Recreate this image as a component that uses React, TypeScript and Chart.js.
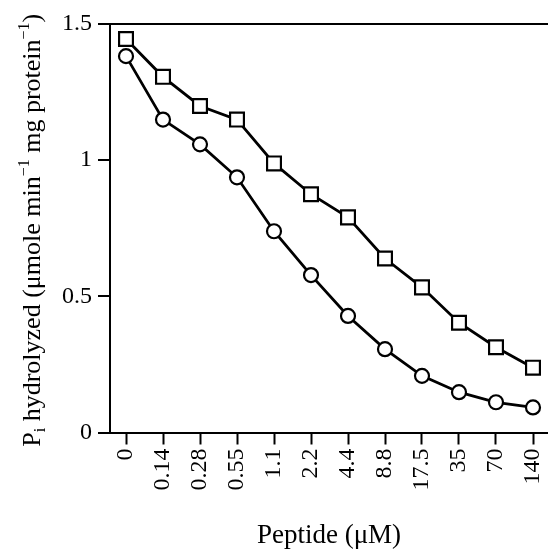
import React, { useEffect, useRef } from "react";
import { Chart, registerables } from "chart.js";

Chart.register(...registerables);

const categories = ["0", "0.14", "0.28", "0.55", "1.1", "2.2", "4.4", "8.8", "17.5", "35", "70", "140"];
const squareValues = [1.445, 1.306, 1.199, 1.149, 0.988, 0.875, 0.79, 0.639, 0.533, 0.403, 0.313, 0.238];
const circleValues = [1.382, 1.149, 1.058, 0.937, 0.739, 0.578, 0.428, 0.306, 0.208, 0.148, 0.111, 0.092];
const yTickValues = [0, 0.5, 1, 1.5];
const yTickLabels = ["0", "0.5", "1", "1.5"];
const xTitle = "Peptide (\u03bcM)";
const yTitleParts = [
  { t: "P", k: "n" },
  { t: "i", k: "sub" },
  { t: " hydrolyzed (\u03bcmole min", k: "n" },
  { t: "\u22121", k: "sup" },
  { t: " mg protein", k: "n" },
  { t: "\u22121", k: "sup" },
  { t: ")", k: "n" },
];

const FONT = "'Liberation Serif', 'Times New Roman', serif";

const yTitlePlugin = {
  id: "yTitlePlugin",
  afterDraw(chart: any) {
    const ctx = chart.ctx;
    const { top, bottom } = chart.chartArea;
    const big = 26;
    const small = 16;
    ctx.save();
    ctx.fillStyle = "#000";
    ctx.textBaseline = "alphabetic";
    ctx.textAlign = "left";
    const widths = yTitleParts.map((p) => {
      ctx.font = `${p.k === "n" ? big : small}px ${FONT}`;
      return ctx.measureText(p.t).width;
    });
    const total = widths.reduce((a, b) => a + b, 0);
    ctx.translate(40, (top + bottom) / 2 + 2);
    ctx.rotate(-Math.PI / 2);
    let x = -total / 2;
    yTitleParts.forEach((p, i) => {
      ctx.font = `${p.k === "n" ? big : small}px ${FONT}`;
      const dy = p.k === "sub" ? 5 : p.k === "sup" ? -11 : 0;
      ctx.fillText(p.t, x, dy);
      x += widths[i];
    });
    ctx.restore();
  },
};

export default function App() {
  const ref = useRef<HTMLCanvasElement | null>(null);

  useEffect(() => {
    document.documentElement.style.overflow = "hidden";
    document.body.style.margin = "0";
    document.body.style.overflow = "hidden";
    document.body.style.background = "#fff";
    const canvas = ref.current;
    if (!canvas) return;
    const xMin = -16 / 37;
    const xMax = xMin + 438 / 37;
    const chart = new Chart(canvas, {
      type: "line",
      data: {
        datasets: [
          {
            label: "squares",
            data: squareValues.map((v, i) => ({ x: i, y: v })),
            borderColor: "#000",
            borderWidth: 2.8,
            pointStyle: "rect",
            pointRadius: 9.8,
            pointBorderWidth: 2.2,
            pointBackgroundColor: "#fff",
            pointBorderColor: "#000",
            tension: 0,
          },
          {
            label: "circles",
            data: circleValues.map((v, i) => ({ x: i, y: v })),
            borderColor: "#000",
            borderWidth: 2.8,
            pointStyle: "circle",
            pointRadius: 7,
            pointBorderWidth: 2.2,
            pointBackgroundColor: "#fff",
            pointBorderColor: "#000",
            tension: 0,
          },
        ],
      },
      options: {
        animation: false,
        responsive: false,
        devicePixelRatio: 1,
        layout: { autoPadding: false, padding: { top: 24, left: 0, right: 0, bottom: 0 } },
        plugins: { legend: { display: false }, tooltip: { enabled: false } },
        scales: {
          x: {
            type: "linear",
            min: xMin,
            max: xMax,
            afterBuildTicks: (scale: any) => {
              scale.ticks = categories.map((_, i) => ({ value: i }));
            },
            afterFit: (scale: any) => {
              scale.height = 552 - 432.5;
              scale.paddingLeft = 0;
              scale.paddingRight = 0;
            },
            ticks: {
              autoSkip: false,
              minRotation: 90,
              maxRotation: 90,
              padding: 4,
              color: "#000",
              font: { family: FONT, size: 24 },
              callback: (_v: any, i: number) => categories[i],
            },
            grid: {
              display: true,
              drawOnChartArea: false,
              drawTicks: true,
              tickLength: 12,
              tickColor: "#000",
              tickWidth: 2,
            },
            border: { display: true, color: "#000", width: 2 },
            title: {
              display: true,
              text: xTitle,
              color: "#000",
              font: { family: FONT, size: 27 },
              padding: { top: 0, bottom: 0 },
            },
          },
          y: {
            type: "linear",
            min: 0,
            max: 1.5,
            afterBuildTicks: (scale: any) => {
              scale.ticks = yTickValues.map((v) => ({ value: v }));
            },
            afterFit: (scale: any) => {
              scale.width = 110;
              scale.paddingTop = 0;
              scale.paddingBottom = 0;
            },
            ticks: {
              padding: 6,
              color: "#000",
              font: { family: FONT, size: 24 },
              callback: (_v: any, i: number) => yTickLabels[i],
            },
            grid: {
              display: true,
              drawOnChartArea: true,
              color: (c: any) => (c.tick && c.tick.value === 1.5 ? "#000" : "rgba(0,0,0,0)"),
              lineWidth: 2,
              drawTicks: true,
              tickLength: 12,
              tickColor: "#000",
              tickWidth: 2,
            },
            border: { display: true, color: "#000", width: 2 },
          },
        },
      },
      plugins: [yTitlePlugin],
    });
    return () => chart.destroy();
  }, []);

  return (
    <div style={{ width: 548, height: 552, background: "#fff" }}>
      <canvas ref={ref} width={548} height={552} style={{ display: "block", width: 548, height: 552 }} />
    </div>
  );
}
